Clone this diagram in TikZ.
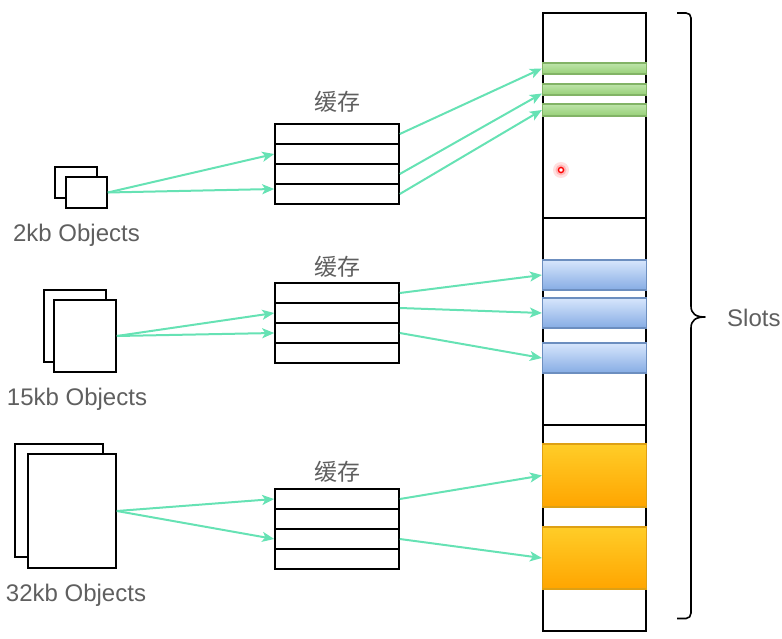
\documentclass[tikz,border=0pt]{standalone}
\usepackage{fontspec}
\setmainfont{Liberation Sans}
\newfontfamily\cjk{Noto Sans CJK SC}
\usetikzlibrary{arrows.meta}
\definecolor{arrowc}{RGB}{102,226,180}
\definecolor{txtc}{RGB}{95,95,95}
\definecolor{gtop}{RGB}{190,228,170}
\definecolor{gbot}{RGB}{151,208,119}
\definecolor{gline}{RGB}{130,179,102}
\definecolor{btop}{RGB}{215,230,252}
\definecolor{bbot}{RGB}{134,172,228}
\definecolor{bline}{RGB}{108,142,191}
\definecolor{otop}{RGB}{255,205,40}
\definecolor{obot}{RGB}{255,165,0}
\definecolor{oline}{RGB}{222,160,20}
\begin{document}
\begin{tikzpicture}[x=1pt,y=-1pt,
  box/.style={draw=black,line width=1.6pt,fill=white,inner sep=0pt,minimum width=124pt,minimum height=20pt},
  obj/.style={draw=black,line width=1.6pt,fill=white,inner sep=0pt},
  lbl/.style={text=txtc,font=\fontsize{24}{28}\selectfont,inner sep=0pt},
  cjklbl/.style={text=txtc,font=\cjk\fontsize{23}{26}\selectfont,inner sep=0pt},
  conn/.style={draw=arrowc,line width=2pt,-{Stealth[length=12pt,width=10pt,inset=3pt]}},
  bar/.style={inner sep=0pt,minimum width=104pt,line width=1.2pt},
  greenbar/.style={bar,top color=gtop,bottom color=gbot,draw=gline},
  bluebar/.style={bar,top color=btop,bottom color=bbot,draw=bline},
  orangebar/.style={bar,top color=otop,bottom color=obot,draw=oline},
]
\useasboundingbox (0,0) rectangle (782,639);

% objects
\node[obj,minimum width=42pt,minimum height=31pt] (o1b) at (76,182.5) {};
\node[obj,minimum width=41pt,minimum height=31pt] (o1f) at (86.5,192.5) {};
\node[lbl] (l1) at (76.5,235) {2kb Objects};

\node[obj,minimum width=62pt,minimum height=72pt] (o2b) at (75,326) {};
\node[obj,minimum width=62pt,minimum height=72pt] (o2f) at (85,336) {};
\node[lbl] (l2) at (77,399) {15kb Objects};

\node[obj,minimum width=88pt,minimum height=113pt] (o3b) at (59,500.5) {};
\node[obj,minimum width=88pt,minimum height=114pt] (o3f) at (72,511) {};
\node[lbl] (l3) at (76,595) {32kb Objects};

% caches
\node[cjklbl] (k1) at (337,102) {缓存};
\node[box] (c1r1) at (337,134) {};
\node[box] (c1r2) at (337,154) {};
\node[box] (c1r3) at (337,174) {};
\node[box] (c1r4) at (337,194) {};

\node[cjklbl] (k2) at (337,267) {缓存};
\node[box] (c2r1) at (337,293) {};
\node[box] (c2r2) at (337,313) {};
\node[box] (c2r3) at (337,333) {};
\node[box] (c2r4) at (337,353) {};

\node[cjklbl] (k3) at (337,472) {缓存};
\node[box] (c3r1) at (337,499) {};
\node[box] (c3r2) at (337,519) {};
\node[box] (c3r3) at (337,539) {};
\node[box] (c3r4) at (337,559) {};

% slot column
\node[draw=black,line width=1.6pt,fill=white,inner sep=0pt,minimum width=103pt,minimum height=618pt] (col) at (594.5,322) {};
\draw[line width=1.6pt] (543,218) -- (646,218);
\draw[line width=1.6pt] (543,425) -- (646,425);

\node[greenbar,minimum height=11pt] (g1) at (594.5,68.5) {};
\node[greenbar,minimum height=11pt] (g2) at (594.5,89.5) {};
\node[greenbar,minimum height=12pt] (g3) at (594.5,110) {};

\node[bluebar,minimum height=30pt] (b1) at (594.5,275) {};
\node[bluebar,minimum height=30pt] (b2) at (594.5,313) {};
\node[bluebar,minimum height=30pt] (b3) at (594.5,358) {};

\node[orangebar,minimum height=63pt] (y1) at (594.5,475.5) {};
\node[orangebar,minimum height=62pt] (y2) at (594.5,558) {};

% red pointer mark
\fill[red!12] (561,170) circle (8);
\fill[red!28] (561,170) circle (5.5);
\fill[white] (561,170) circle (3.2);
\draw[red,line width=1.4pt] (561,170) circle (2.6);

% brace
\draw[line width=1.6pt,line join=round] (677,13) -- (686,13) .. controls (689,13) and (691,15) .. (691,18)
  -- (691,306) .. controls (691,314) and (696,317) .. (705,317)
  .. controls (696,317) and (691,320) .. (691,328)
  -- (691,613) .. controls (691,616) and (689,618.5) .. (686,618.5) -- (677,618.5);
\coordinate (tip) at (705,317);
\node[lbl,anchor=west] (slots) at (727,318) {Slots};

% connectors
\draw[conn] (o1f.east) -- (c1r2.west);
\draw[conn] (o1f.east) -- ([yshift=5pt]c1r4.west);
\draw[conn] (c1r1.east) -- (g1.west);
\draw[conn] (c1r3.east) -- ([yshift=-4pt]g2.west);
\draw[conn] (c1r4.east) -- (g3.west);

\draw[conn] (o2f.east) -- (c2r2.west);
\draw[conn] (o2f.east) -- (c2r3.west);
\draw[conn] (c2r1.east) -- (b1.west);
\draw[conn] ([yshift=5pt]c2r2.east) -- (b2.west);
\draw[conn] (c2r3.east) -- (b3.west);

\draw[conn] (o3f.east) -- (c3r1.west);
\draw[conn] (o3f.east) -- (c3r3.west);
\draw[conn] (c3r1.east) -- (y1.west);
\draw[conn] (c3r3.east) -- (y2.west);
\end{tikzpicture}
\end{document}
